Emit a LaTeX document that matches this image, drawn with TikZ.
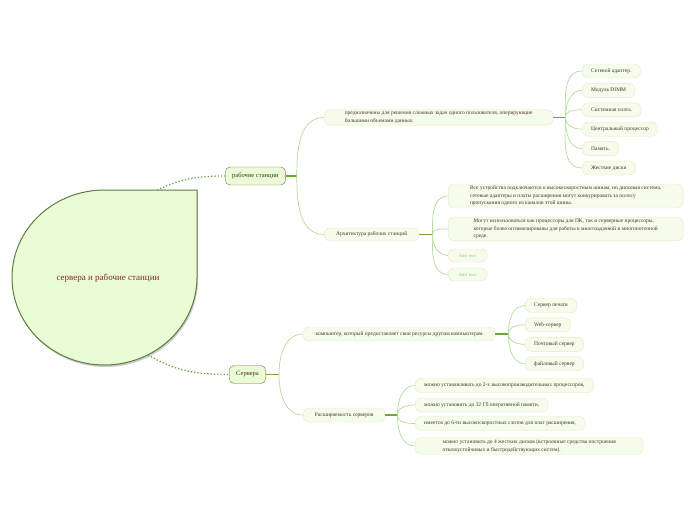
\documentclass[tikz,border=0pt]{standalone}
\usepackage{fontspec}
\setmainfont{Liberation Serif}
\usetikzlibrary{positioning, shadows}
\definecolor{rootfill}{HTML}{E9FCD5}
\definecolor{rootline}{HTML}{5E7E40}
\definecolor{roottext}{HTML}{7A2A28}
\definecolor{branchline}{HTML}{9A5A58}
\definecolor{leaffill}{HTML}{F5FCEC}
\definecolor{leafline}{HTML}{F0E4C0}
\definecolor{leaftext}{HTML}{4A3428}
\definecolor{thinlink}{HTML}{B2DC9C}
\definecolor{thicklink}{HTML}{6AA83A}
\definecolor{hinttext}{HTML}{A8BC98}

\begin{document}
\begin{tikzpicture}[
	x=1pt, y=-1pt,
	branch/.style={draw=branchline, fill=rootfill, rounded corners=5pt, anchor=west, minimum height=18pt, inner xsep=7pt, font=\fontsize{6.5}{8}\selectfont, text=leaftext},
	leaf/.style={draw=leafline, fill=leaffill, rounded corners=6pt, anchor=west, minimum height=14pt, inner xsep=9pt, inner ysep=2pt, align=left, font=\fontsize{5.5}{7.5}\selectfont, text=leaftext},
	hint/.style={leaf, minimum height=13pt, minimum width=39pt, font=\sffamily\fontsize{4.5}{6}\selectfont, text=hinttext},
	trunk/.style={draw=thicklink, line width=1.4pt},
	link/.style={draw=thinlink, line width=0.7pt},
	dots/.style={draw=thicklink, line width=1.3pt, dotted},
	font=\rmfamily
	]

	\useasboundingbox (0,0) rectangle (696,520);

	\path[fill=rootfill, draw=rootline, line width=1pt, drop shadow={shadow xshift=1pt, shadow yshift=-2pt, opacity=0.2, fill=black}]
		(197,277.5) arc[start angle=0, end angle=270, x radius=92.5, y radius=87.5] -- (197,190) -- cycle;
	\node[font=\fontsize{9}{11}\selectfont, text=roottext] (root) at (108,278) {сервера и рабочие станции};
	\coordinate (roottop) at (157,190);
	\coordinate (rootbot) at (148,355);

	\node[branch] (ws) at (225,176) {рабочие станции};
	\node[branch] (srv) at (229,374.5) {Сервера};

	\node[leaf, minimum width=229pt] (wsgoal) at (324,117.5) {предназначены для решения сложных задач одного пользователя, оперирующие\\ большими объемами данных.};
	\node[leaf, minimum height=13pt, minimum width=95pt] (wsarch) at (324,234.5) {Архитектура рабочих станций};

	\node[leaf] (nic) at (582,71) {Сетевой адаптер.};
	\node[leaf, below=5pt of nic.south west, anchor=north west] (dimm) {Модуль DIMM};
	\node[leaf, below=5pt of dimm.south west, anchor=north west] (board) {Системная плата.};
	\node[leaf, below=5pt of board.south west, anchor=north west] (cpu) {Центральный процессор};
	\node[leaf, below=5pt of cpu.south west, anchor=north west] (mem) {Память.};
	\node[leaf, below=5pt of mem.south west, anchor=north west] (hdd) {Жесткие диски};

	\node[leaf, minimum width=235pt] (bus) at (448,196) {Все устройства подключаются к высокоскоростным шинам, но дисковая система,\\ сетевые адаптеры и платы расширения могут конкурировать за полосу\\ пропускания одного из каналов этой шины.};
	\node[leaf, minimum width=235pt] (proc) at (448,229) {Могут использоваться как процессоры для ПК, так и серверные процессоры,\\ которые более оптимизированы для работы в многозадачной и многопоточной\\ среде.};
	\node[hint] (add1) at (448,255.5) {Add text};
	\node[hint] (add2) at (448,274.5) {Add text};

	\node[leaf, minimum width=192pt] (srvdef) at (303,334) {компьютер, который предоставляет свои ресурсы другим компьютерам};
	\node[leaf, minimum width=82pt] (srvext) at (303,415) {Расширяемость серверов};

	\node[leaf] (print) at (525,305.5) {Сервер печати};
	\node[leaf, below=5pt of print.south west, anchor=north west] (web) {Web-сервер};
	\node[leaf, below=5pt of web.south west, anchor=north west] (mail) {Почтовый сервер};
	\node[leaf, below=5pt of mail.south west, anchor=north west] (file) {файловый сервер};

	\node[leaf] (ext1) at (415,385.5) {можно устанавливать до 2-х высокопроизводительных процессоров,};
	\node[leaf] (ext2) at (415,405) {можно установить до 32 Гб оперативной памяти,};
	\node[leaf] (ext3) at (415,423.5) {имеется до 6-ти высокоскоростных слотов для плат расширения,};
	\node[leaf, minimum width=228pt] (ext4) at (415,446) {можно установить до 4 жестких дисков (встроенные средства построения\\ отказоустойчивых и быстродействующих систем).};

	\draw[dots] (roottop) to[out=25, in=180] (ws.west);
	\draw[dots] (rootbot) to[out=-30, in=180] (srv.west);

	\coordinate[right=11pt of ws.east] (wsfork);
	\coordinate[right=12pt of wsgoal.east] (goalfork);
	\coordinate[right=13pt of wsarch.east] (archfork);
	\coordinate[right=13pt of srv.east] (srvfork);
	\coordinate[right=13pt of srvdef.east] (deffork);
	\coordinate[right=12pt of srvext.east] (extfork);

	\draw[trunk] (ws.east) -- (wsfork);
	\draw[link] (wsfork) to[out=90, in=180] (wsgoal.west);
	\draw[link] (wsfork) to[out=-90, in=180] (wsarch.west);

	\draw[trunk] (wsgoal.east) -- (goalfork);
	\foreach \n in {nic, dimm, board}
		\draw[link] (goalfork) to[out=90, in=180] (\n.west);
	\foreach \n in {cpu, mem, hdd}
		\draw[link] (goalfork) to[out=-90, in=180] (\n.west);

	\draw[trunk] (wsarch.east) -- (archfork);
	\foreach \n in {bus, proc}
		\draw[link] (archfork) to[out=90, in=180] (\n.west);
	\foreach \n in {add1, add2}
		\draw[link] (archfork) to[out=-90, in=180] (\n.west);

	\draw[trunk] (srv.east) -- (srvfork);
	\draw[link] (srvfork) to[out=90, in=180] (srvdef.west);
	\draw[link] (srvfork) to[out=-90, in=180] (srvext.west);

	\draw[trunk] (srvdef.east) -- (deffork);
	\foreach \n in {print, web}
		\draw[link] (deffork) to[out=90, in=180] (\n.west);
	\foreach \n in {mail, file}
		\draw[link] (deffork) to[out=-90, in=180] (\n.west);

	\draw[trunk] (srvext.east) -- (extfork);
	\foreach \n in {ext1, ext2}
		\draw[link] (extfork) to[out=90, in=180] (\n.west);
	\foreach \n in {ext3, ext4}
		\draw[link] (extfork) to[out=-90, in=180] (\n.west);

\end{tikzpicture}
\end{document}
